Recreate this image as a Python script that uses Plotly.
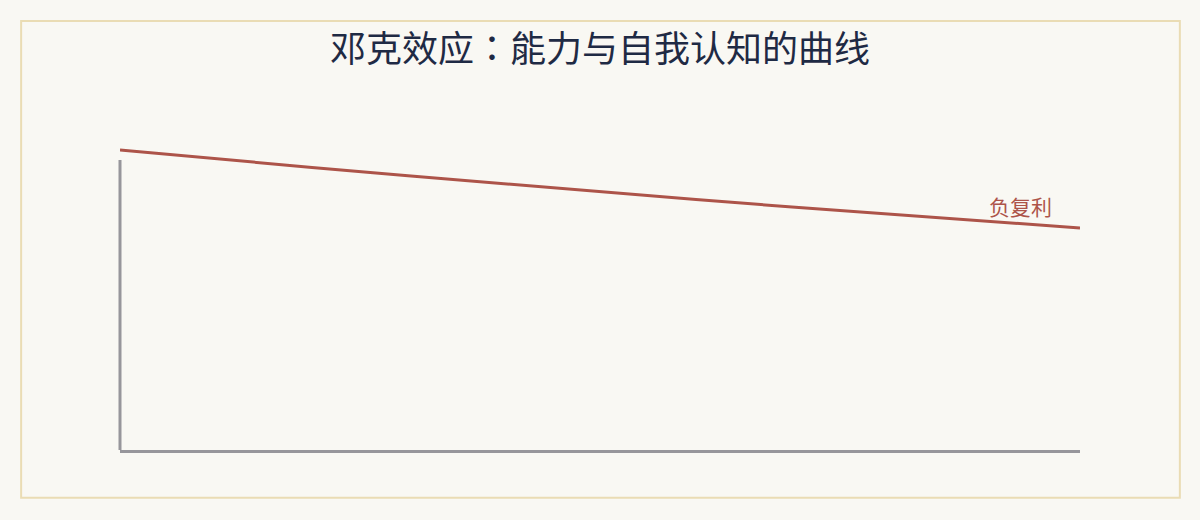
import plotly.graph_objects as go

# ability (x) vs. self-perception (y)
ability = [0, 10, 20, 30, 40, 50, 60, 70, 80, 90, 100]
perception = [100, 97.0, 94.2, 91.4, 88.7, 86.0, 83.5, 81.0, 78.6, 76.3, 74.0]

title_text = "邓克效应：能力与自我认知的曲线"
curve_label = "负复利"
label_x, label_y = 93.8, 81.4
axis_top = 96.7

red = "#ad5449"
grey = "#97969b"
bg = "#f9f8f3"
font = "Noto Sans CJK TC"

fig = go.Figure()

fig.add_trace(go.Scatter(
    x=ability,
    y=perception,
    mode="lines",
    line=dict(color=red, width=3),
    hoverinfo="skip",
    showlegend=False,
))

fig.add_annotation(
    x=label_x, y=label_y, xref="x", yref="y",
    text=curve_label, showarrow=False,
    font=dict(family=font, size=21, color=red),
)

# y axis only goes part of the way up
fig.add_shape(type="line", xref="paper", yref="y",
              x0=0, x1=0, y0=0, y1=axis_top,
              line=dict(color=grey, width=3))

# thin frame round the whole chart
fig.add_shape(type="rect", xref="paper", yref="paper",
              x0=-0.103, x1=1.104, y0=-0.145, y1=1.3,
              line=dict(color="#eadcb4", width=2), fillcolor="rgba(0,0,0,0)",
              layer="below")

fig.update_layout(
    width=1200, height=520,
    margin=dict(l=120, r=120, t=120, b=70),
    paper_bgcolor=bg, plot_bgcolor=bg,
    title=dict(text=title_text, x=0.5, xanchor="center", y=0.905, yanchor="middle",
               font=dict(family=font, size=36, color="#1f2a44")),
    xaxis=dict(range=[0, 100], showgrid=False, zeroline=False, showticklabels=False,
               ticks="", showline=True, linecolor=grey, linewidth=3),
    yaxis=dict(range=[0, 110], showgrid=False, zeroline=False, showticklabels=False,
               ticks="", showline=False),
)

fig.write_html("out.html", config={"displayModeBar": False},
               post_script="document.body.style.margin='0';document.body.style.background='%s';" % bg)
